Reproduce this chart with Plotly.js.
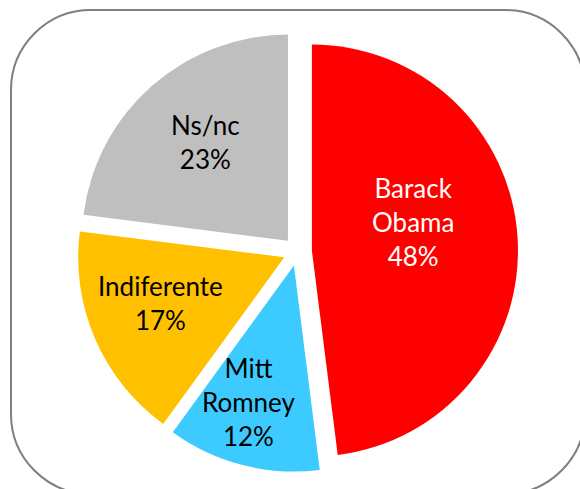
<!DOCTYPE html>
<html>
<head>
<meta charset="utf-8">
<script src="https://cdn.plot.ly/plotly-3.0.1.min.js"></script>
<style>html,body{margin:0;padding:0;background:#fff;}#chart{width:580px;height:489px;}</style>
</head>
<body>
<div id="chart"></div>
<script>
// Data
const categories = ['Barack Obama', 'Mitt Romney', 'Indiferente', 'Ns/nc'];
const values = [48, 12, 17, 23];
const labelLines = ['Barack<br>Obama', 'Mitt<br>Romney', 'Indiferente', 'Ns/nc'];

// Styles / placement (not data)
const sliceColors = ['#FF0000', '#3DCBFF', '#FFC000', '#BFBFBF'];
const textColors = ['#FFFFFF', '#000000', '#000000', '#000000'];
const labelCenters = [[413, 222], [248, 402], [160, 303], [205, 142]]; // pixel centres of label blocks

const W = 580, H = 489;
function px(x){return x / W;}
function py(y){return 1 - y / H;}
// rounded border
const bx0 = 11, by0 = 10, bx1 = 585, by1 = 494, R = 80, k = 0.5523 * R;
const path = [
  `M ${px(bx0 + R)},${py(by0)}`,
  `L ${px(bx1 - R)},${py(by0)}`,
  `C ${px(bx1 - R + k)},${py(by0)} ${px(bx1)},${py(by0 + R - k)} ${px(bx1)},${py(by0 + R)}`,
  `L ${px(bx1)},${py(by1 - R)}`,
  `C ${px(bx1)},${py(by1 - R + k)} ${px(bx1 - R + k)},${py(by1)} ${px(bx1 - R)},${py(by1)}`,
  `L ${px(bx0 + R)},${py(by1)}`,
  `C ${px(bx0 + R - k)},${py(by1)} ${px(bx0)},${py(by1 - R + k)} ${px(bx0)},${py(by1 - R)}`,
  `L ${px(bx0)},${py(by0 + R)}`,
  `C ${px(bx0)},${py(by0 + R - k)} ${px(bx0 + R - k)},${py(by0)} ${px(bx0 + R)},${py(by0)}`,
  'Z'
].join(' ');

const cx = 297.5, cy = 251.5, half = 220.5;
const total = values.reduce((a, b) => a + b, 0);

const trace = {
  type: 'pie',
  labels: categories,
  values: values,
  textinfo: 'none',
  marker: {colors: sliceColors, line: {width: 0}},
  sort: false,
  direction: 'clockwise',
  rotation: 0,
  pull: [0.07, 0.07, 0.07, 0.07],
  hoverinfo: 'none',
  domain: {x: [px(cx - half), px(cx + half)], y: [py(cy + half), py(cy - half)]}
};

const annotations = categories.map((c, i) => ({
  xref: 'paper', yref: 'paper',
  x: px(labelCenters[i][0]), y: py(labelCenters[i][1]),
  xanchor: 'center', yanchor: 'middle',
  text: labelLines[i] + '<br>' + Math.round(values[i] / total * 100) + '%',
  showarrow: false,
  align: 'center',
  font: {family: 'Lato, "Open Sans", sans-serif', size: 26, color: textColors[i]}
}));

const layout = {
  width: W, height: H,
  margin: {l: 0, r: 0, t: 0, b: 0},
  paper_bgcolor: '#FFFFFF',
  showlegend: false,
  annotations: annotations,
  shapes: [{type: 'path', xref: 'paper', yref: 'paper', path: path,
            line: {color: '#7F7F7F', width: 2}, fillcolor: 'rgba(0,0,0,0)', layer: 'below'}]
};

Plotly.newPlot('chart', [trace], layout, {displayModeBar: false, staticPlot: true});
</script>
</body>
</html>
